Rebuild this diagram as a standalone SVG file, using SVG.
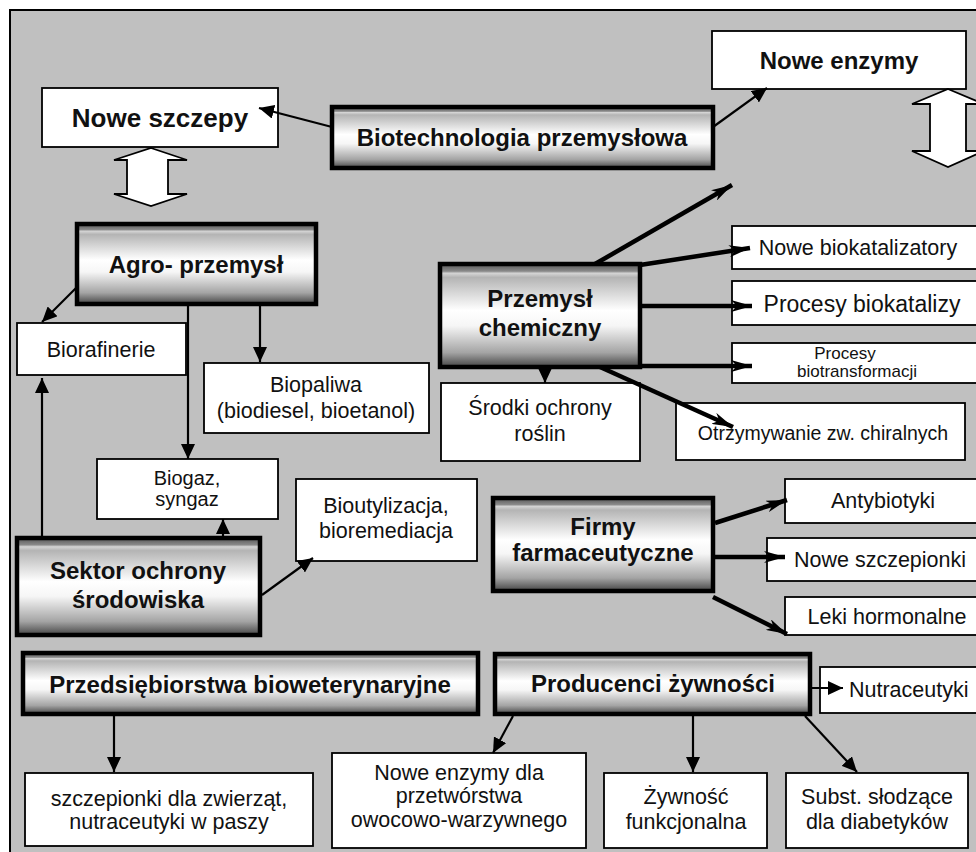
<svg xmlns="http://www.w3.org/2000/svg" width="976" height="852" viewBox="0 0 976 852">
<defs>
<linearGradient id="g" x1="0" y1="0" x2="0" y2="1">
<stop offset="0" stop-color="#555"/>
<stop offset="0.07" stop-color="#8a8a8a"/>
<stop offset="0.09" stop-color="#d4d4d4"/>
<stop offset="0.13" stop-color="#b4b4b4"/>
<stop offset="0.45" stop-color="#fff"/>
<stop offset="0.6" stop-color="#f6f6f6"/>
<stop offset="0.86" stop-color="#a4a4a4"/>
<stop offset="1" stop-color="#454545"/>
</linearGradient>
<marker id="a" markerUnits="userSpaceOnUse" markerWidth="16" markerHeight="14" refX="15" refY="7" orient="auto">
<path d="M0,0 L15,7 L0,14 z" fill="#000"/>
</marker>
<marker id="t" markerUnits="userSpaceOnUse" markerWidth="22" markerHeight="12" refX="21" refY="6" orient="auto">
<path d="M0,0 L21,6 L0,12 L6,6 z" fill="#000"/>
</marker>
</defs>
<style>
.box{fill:#fff;stroke:#000;stroke-width:1.8}
.gb{fill:url(#g);stroke:#000;stroke-width:4.5}
.h{font-family:"Liberation Sans",Arial,sans-serif;font-weight:bold;font-size:24px;fill:#111;text-anchor:middle}
.r{font-family:"Liberation Sans",Arial,sans-serif;font-size:21.5px;fill:#111;text-anchor:middle}
.c{fill:none;stroke:#000;stroke-width:2.2}
.k{fill:none;stroke:#000;stroke-width:4.5}
.d{fill:#fff;stroke:#000;stroke-width:1.8;stroke-linejoin:miter}
</style>
<rect x="10" y="10" width="1000" height="900" fill="#c0c0c0" stroke="#000" stroke-width="2"/>

<g id="nowe-szczepy"><rect class="box" x="42" y="88" width="236" height="59"/><text class="h" x="160" y="127" style="font-size:26px">Nowe szczepy</text></g>
<g id="biotechnologia"><rect class="gb" x="332" y="107" width="381" height="61"/><text class="h" x="522" y="146">Biotechnologia przemysłowa</text></g>
<g id="nowe-enzymy"><rect class="box" x="712" y="31" width="254" height="58"/><text class="h" x="839" y="69">Nowe enzymy</text></g>
<g id="agro"><rect class="gb" x="77" y="224" width="239" height="80"/><text class="h" x="196" y="273">Agro- przemysł</text></g>
<g id="biorafinerie"><rect class="box" x="17" y="323" width="169" height="52"/><text class="r" x="101" y="357">Biorafinerie</text></g>
<g id="biopaliwa"><rect class="box" x="204" y="363" width="225" height="70"/><text class="r" x="316" y="392">Biopaliwa</text><text class="r" x="316" y="418">(biodiesel, bioetanol)</text></g>
<g id="chemiczny"><rect class="gb" x="440" y="264" width="200" height="103"/><text class="h" x="540" y="307">Przemysł</text><text class="h" x="540" y="336">chemiczny</text></g>
<g id="srodki"><rect class="box" x="441" y="383" width="199" height="78"/><text class="r" x="540" y="415">Środki ochrony</text><text class="r" x="540" y="441">roślin</text></g>
<g id="nowe-biokatalizatory"><rect class="box" x="732" y="226" width="260" height="43"/><text class="r" x="858" y="255">Nowe biokatalizatory</text></g>
<g id="procesy-biokatalizy"><rect class="box" x="732" y="281" width="260" height="44"/><text class="r" x="862" y="312" style="font-size:23px">Procesy biokatalizy</text></g>
<g id="procesy-biotransformacji"><rect class="box" x="732" y="343" width="260" height="40"/><text class="r" x="845" y="359" style="font-size:17px">Procesy</text><text class="r" x="857" y="377" style="font-size:17px">biotransformacji</text></g>
<g id="otrzymywanie"><rect class="box" x="676" y="403" width="289" height="57"/><text class="r" x="823" y="440" style="font-size:19.5px">Otrzymywanie zw. chiralnych</text></g>
<g id="biogaz"><rect class="box" x="97" y="459" width="181" height="60"/><text class="r" x="187" y="485" style="font-size:20px">Biogaz,</text><text class="r" x="187" y="506" style="font-size:20px">syngaz</text></g>
<g id="bioutylizacja"><rect class="box" x="296" y="479" width="181" height="82"/><text class="r" x="386" y="513">Bioutylizacja,</text><text class="r" x="386" y="538">bioremediacja</text></g>
<g id="sektor"><rect class="gb" x="17" y="538" width="243" height="97"/><text class="h" x="138" y="579">Sektor ochrony</text><text class="h" x="138" y="608">środowiska</text></g>
<g id="firmy"><rect class="gb" x="493" y="498" width="220" height="93"/><text class="h" x="603" y="535">Firmy</text><text class="h" x="603" y="561">farmaceutyczne</text></g>
<g id="antybiotyki"><rect class="box" x="785" y="479" width="210" height="44"/><text class="r" x="883" y="508">Antybiotyki</text></g>
<g id="nowe-szczepionki"><rect class="box" x="767" y="538" width="228" height="43"/><text class="r" x="880" y="567">Nowe szczepionki</text></g>
<g id="leki"><rect class="box" x="785" y="597" width="210" height="38"/><text class="r" x="887" y="624">Leki hormonalne</text></g>
<g id="bioweterynaryjne"><rect class="gb" x="23" y="653" width="455" height="61"/><text class="h" x="250" y="693">Przedsiębiorstwa bioweterynaryjne</text></g>
<g id="producenci"><rect class="gb" x="495" y="654" width="315" height="60"/><text class="h" x="653" y="692">Producenci żywności</text></g>
<g id="nutraceutyki"><rect class="box" x="820" y="667" width="180" height="46"/><text class="r" x="849" y="697" style="text-anchor:start">Nutraceutyki</text></g>
<g id="szczepionki-zwierzat"><rect class="box" x="25" y="773" width="288" height="73"/><text class="r" x="169" y="806">szczepionki dla zwierząt,</text><text class="r" x="169" y="829">nutraceutyki w paszy</text></g>
<g id="nowe-enzymy-dla"><rect class="box" x="332" y="753" width="254" height="95"/><text class="r" x="459" y="780">Nowe enzymy dla</text><text class="r" x="459" y="803">przetwórstwa</text><text class="r" x="459" y="827">owocowo-warzywnego</text></g>
<g id="zywnosc"><rect class="box" x="604" y="773" width="163" height="75"/><text class="r" x="686" y="804">Żywność</text><text class="r" x="686" y="829">funkcjonalna</text></g>
<g id="subst"><rect class="box" x="786" y="773" width="182" height="75"/><text class="r" x="877" y="804">Subst. słodzące</text><text class="r" x="877" y="829">dla diabetyków</text></g>

<g id="connectors">
<polygon class="d" points="151,148 187,160 168,160 168,194 187,194 151,206 114,194 127,194 127,160 114,160"/>
<polygon class="d" points="948,89 984,104 966,104 966,151 984,151 948,167 912,151 930,151 930,104 912,104"/>
<line class="c" x1="332" y1="127" x2="259" y2="108" marker-end="url(#a)"/>
<line class="c" x1="713" y1="127" x2="767" y2="88" marker-end="url(#a)"/>
<line class="k" x1="595" y1="264" x2="732" y2="185" marker-end="url(#t)"/>
<line class="k" x1="640" y1="265" x2="750" y2="248" marker-end="url(#t)"/>
<line class="k" x1="640" y1="306" x2="752" y2="306" marker-end="url(#t)"/>
<line class="k" x1="640" y1="366" x2="752" y2="366" marker-end="url(#t)"/>
<line class="k" x1="600" y1="367" x2="733" y2="427" marker-end="url(#t)"/>
<line class="c" x1="545" y1="368" x2="545" y2="383" marker-end="url(#a)"/>
<line class="c" x1="77" y1="287" x2="42" y2="322" marker-end="url(#a)"/>
<line class="c" x1="188" y1="304" x2="188" y2="459" marker-end="url(#a)"/>
<line class="c" x1="260" y1="304" x2="260" y2="362" marker-end="url(#a)"/>
<line class="c" x1="42" y1="538" x2="42" y2="378" marker-end="url(#a)"/>
<line class="c" x1="223" y1="538" x2="223" y2="519" marker-end="url(#a)"/>
<line class="c" x1="262" y1="595" x2="313" y2="558" marker-end="url(#a)"/>
<line class="k" x1="715" y1="523" x2="787" y2="500" marker-end="url(#t)"/>
<line class="k" x1="713" y1="557" x2="785" y2="557" marker-end="url(#t)"/>
<line class="k" x1="713" y1="597" x2="787" y2="634" marker-end="url(#t)"/>
<line class="c" x1="114" y1="714" x2="114" y2="772" marker-end="url(#a)"/>
<line class="c" x1="513" y1="716" x2="493" y2="753" marker-end="url(#a)"/>
<line class="c" x1="693" y1="714" x2="693" y2="772" marker-end="url(#a)"/>
<line class="c" x1="805" y1="716" x2="857" y2="772" marker-end="url(#a)"/>
<line class="c" x1="810" y1="688" x2="843" y2="688" marker-end="url(#a)"/>
</g>
</svg>
